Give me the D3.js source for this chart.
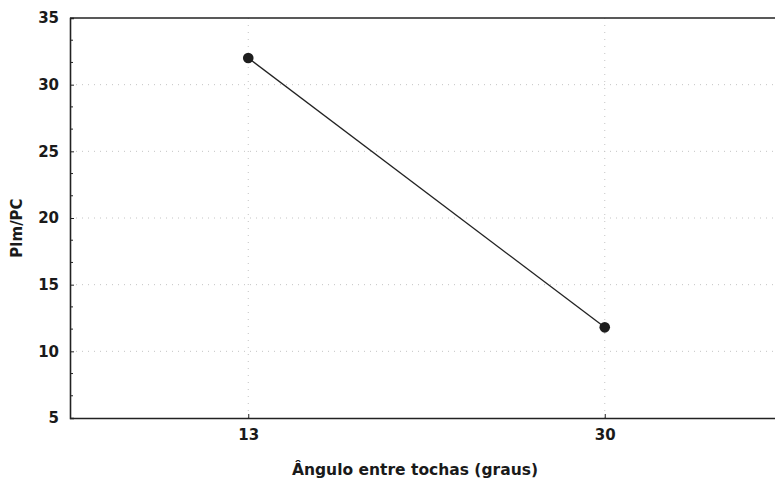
<!DOCTYPE html>
<html><head><meta charset="utf-8">
<script src="https://cdn.jsdelivr.net/npm/d3@7"></script>
<style>body{margin:0;background:#fff}svg{display:block}</style>
</head><body>
<svg id="c" width="775" height="479"></svg>
<script>
const categories = ["13", "30"];
const values = [32.0, 11.8];
const yTicks = [5, 10, 15, 20, 25, 30, 35];
const xTitle = "Ângulo entre tochas (graus)";
const yTitle = "Plm/PC";

const svg = d3.select("#c");
const L = 70, T = 18, B = 418, R = 783;
const x = d3.scalePoint().domain(categories).range([L, R]).padding(0.5);
const y = d3.scaleLinear().domain([5, 35]).range([B, T]);
const font = "'DejaVu Sans', sans-serif";

// grid
svg.append("g").selectAll("line").data(yTicks.slice(1, -1)).join("line")
  .attr("x1", L).attr("x2", 775).attr("y1", d => y(d)).attr("y2", d => y(d))
  .attr("stroke", "#c4c4c4").attr("stroke-width", 1).attr("stroke-dasharray", "1,5");
svg.append("g").selectAll("line").data(categories).join("line")
  .attr("x1", d => x(d)).attr("x2", d => x(d)).attr("y1", T).attr("y2", B)
  .attr("stroke", "#c4c4c4").attr("stroke-width", 1).attr("stroke-dasharray", "1,6");

// axes
const yAxis = d3.axisLeft(y).tickValues(yTicks).tickSize(-4).tickPadding(11);
const gy = svg.append("g").attr("transform", `translate(${L},0)`).call(yAxis);
const minor = d3.range(5, 35, 5 / 3).filter(v => Math.abs(v - Math.round(v / 5) * 5) > 0.01);
svg.append("g").selectAll("line").data(minor).join("line")
  .attr("x1", L).attr("x2", L + 3).attr("y1", d => y(d)).attr("y2", d => y(d))
  .attr("stroke", "#222");
const xAxis = d3.axisBottom(x).tickSize(-4).tickPadding(11);
const gx = svg.append("g").attr("transform", `translate(0,${B})`).call(xAxis);
[gy, gx].forEach(g => {
  g.select(".domain").attr("stroke", "#222").attr("stroke-width", 1.6);
  g.selectAll(".tick line").attr("stroke", "#222");
  g.selectAll("text").attr("font-family", font).attr("font-weight", "bold")
    .attr("font-size", 15).attr("fill", "#1a1a1a");
});
gx.select(".domain").attr("d", `M${L},0.5H775`);
// top border
svg.append("line").attr("x1", L).attr("x2", 775).attr("y1", T).attr("y2", T)
  .attr("stroke", "#222").attr("stroke-width", 1.6);

// line + points
const pts = categories.map((c, i) => [x(c), y(values[i])]);
svg.append("path").attr("d", d3.line()(pts)).attr("fill", "none")
  .attr("stroke", "#222").attr("stroke-width", 1.3);
svg.append("g").selectAll("circle").data(pts).join("circle")
  .attr("cx", d => d[0]).attr("cy", d => d[1]).attr("r", 5.3).attr("fill", "#1e1e1e");

// titles
svg.append("text").attr("x", 415).attr("y", 475).attr("text-anchor", "middle")
  .attr("font-family", font).attr("font-weight", "bold").attr("font-size", 15.5)
  .attr("fill", "#1a1a1a").text(xTitle);
svg.append("text").attr("transform", "translate(22,228) rotate(-90)").attr("text-anchor", "middle")
  .attr("font-family", font).attr("font-weight", "bold").attr("font-size", 15)
  .attr("fill", "#1a1a1a").text(yTitle);
</script>
</body></html>
